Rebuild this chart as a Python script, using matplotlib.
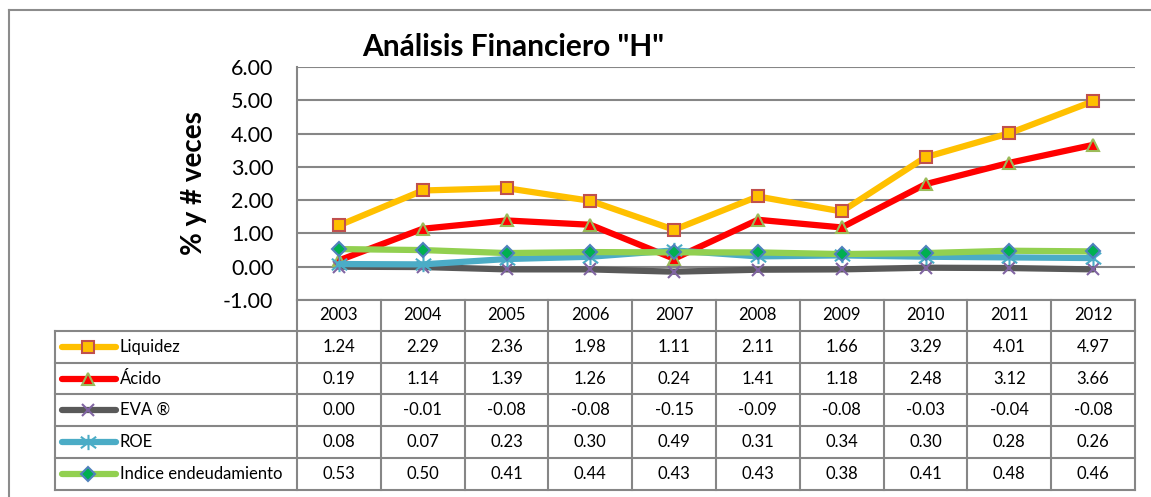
import matplotlib
matplotlib.use("Agg")
import matplotlib.pyplot as plt
import numpy as np
from matplotlib.path import Path

plt.rcParams['font.family'] = ['Lato', 'DejaVu Sans']

years = ['2003', '2004', '2005', '2006', '2007', '2008', '2009', '2010', '2011', '2012']
liquidez = [1.24, 2.29, 2.36, 1.98, 1.11, 2.11, 1.66, 3.29, 4.01, 4.97]
acido = [0.19, 1.14, 1.39, 1.26, 0.24, 1.41, 1.18, 2.48, 3.12, 3.66]
eva = [0.00, -0.01, -0.08, -0.08, -0.15, -0.09, -0.08, -0.03, -0.04, -0.08]
roe = [0.08, 0.07, 0.23, 0.30, 0.49, 0.31, 0.34, 0.30, 0.28, 0.26]
endeud = [0.53, 0.50, 0.41, 0.44, 0.43, 0.43, 0.38, 0.41, 0.48, 0.46]
series_names = ['Liquidez', 'Ácido', 'EVA ®', 'ROE', 'Indice endeudamiento']
series_values = [liquidez, acido, eva, roe, endeud]
title = 'Análisis Financiero "H"'
ylabel = '% y # veces'

star = Path([(0, -1), (0, 1), (-1, -0.75), (1, 0.75), (-1, 0.75), (1, -0.75)],
            [Path.MOVETO, Path.LINETO, Path.MOVETO, Path.LINETO, Path.MOVETO, Path.LINETO])

styles = [
    dict(color='#FFC000', marker='s', markersize=8, markerfacecolor='#FFC000',
         markeredgecolor='#C0504D', markeredgewidth=1.5),
    dict(color='#FF0000', marker='^', markersize=9, markerfacecolor='#FF0000',
         markeredgecolor='#9BBB59', markeredgewidth=1.5),
    dict(color='#595959', marker='x', markersize=8, markerfacecolor='none',
         markeredgecolor='#8064A2', markeredgewidth=1.5),
    dict(color='#4BACC6', marker=star, markersize=11, markerfacecolor='none',
         markeredgecolor='#4BACC6', markeredgewidth=1.5),
    dict(color='#92D050', marker='D', markersize=7, markerfacecolor='#00B050',
         markeredgecolor='#4F81BD', markeredgewidth=1.5),
]

W, H = 1151, 497
fig = plt.figure(figsize=(W / 100, H / 100), dpi=100)
fig.patch.set_facecolor('white')

# pixel layout
L, R, T, B = 297, 1135, 67, 300
ax = fig.add_axes([L / W, 1 - B / H, (R - L) / W, (B - T) / H])
ax.set_facecolor('none')
x = np.arange(len(years)) + 0.5
for vals, st in zip(series_values, styles):
    ax.plot(x, vals, linewidth=4.5, solid_capstyle='round', solid_joinstyle='round', **st)
ax.set_xlim(0, len(years))
ax.set_ylim(-1, 6)
ax.set_yticks(range(-1, 7))
ax.set_yticklabels([f'{v:.2f}' for v in range(-1, 7)], fontsize=15.5)
ax.set_xticks([])
ax.tick_params(axis='y', length=0, pad=17)
ax.grid(axis='y', color='#868686', linewidth=1.5)
ax.set_axisbelow(True)
for s in ['top', 'right', 'bottom']:
    ax.spines[s].set_visible(False)
ax.spines['left'].set_color('#868686')
ax.spines['left'].set_linewidth(1.5)
ax.set_ylabel(ylabel, fontsize=20, fontweight='bold')
ax.yaxis.set_label_coords(-(L - 207) / (R - L), (B - 183) / (B - T))

# overlay in pixel coords for frame, title and table
ov = fig.add_axes([0, 0, 1, 1], zorder=-1)
ov.set_xlim(0, W)
ov.set_ylim(H, 0)
ov.axis('off')
gc = '#8C8C8C'
ov.plot([9, W], [10, 10], color=gc, lw=1.5)
ov.plot([9, 9], [10, H], color=gc, lw=1.5)
ov.text(513, 47, title, fontsize=21.5, fontweight='bold', ha='center', va='center')

ncol = len(years)
colw = (R - L) / ncol
rows = [300, 331, 363, 394, 426, 458, 490]
tl = 55
lc = '#868686'
# horizontal lines
ov.plot([L, R], [rows[0], rows[0]], color=lc, lw=1.5)
for yy in rows[1:]:
    ov.plot([tl, R], [yy, yy], color=lc, lw=1.5)
# vertical lines
ov.plot([tl, tl], [rows[1], rows[-1]], color=lc, lw=1.5)
for i in range(ncol + 1):
    xx = L + i * colw
    ov.plot([xx, xx], [rows[0], rows[-1]], color=lc, lw=1.5)
fs = 12
# header
for i, yr in enumerate(years):
    ov.text(L + (i + 0.5) * colw, (rows[0] + rows[1]) / 2, yr, fontsize=fs,
            ha='center', va='center')
# data rows
for r, (name, vals, st) in enumerate(zip(series_names, series_values, styles)):
    yc = (rows[r + 1] + rows[r + 2]) / 2
    ov.plot([62, 116], [yc, yc], color=st['color'], lw=4.5, solid_capstyle='round')
    mst = {k: v for k, v in st.items() if k != 'color'}
    ov.plot([88], [yc], linestyle='none', **mst)
    ov.text(120, yc, name, fontsize=fs, ha='left', va='center')
    for i, v in enumerate(vals):
        ov.text(L + (i + 0.5) * colw, yc, f'{v:.2f}', fontsize=fs,
                ha='center', va='center')

fig.savefig('out.png', dpi=100)
